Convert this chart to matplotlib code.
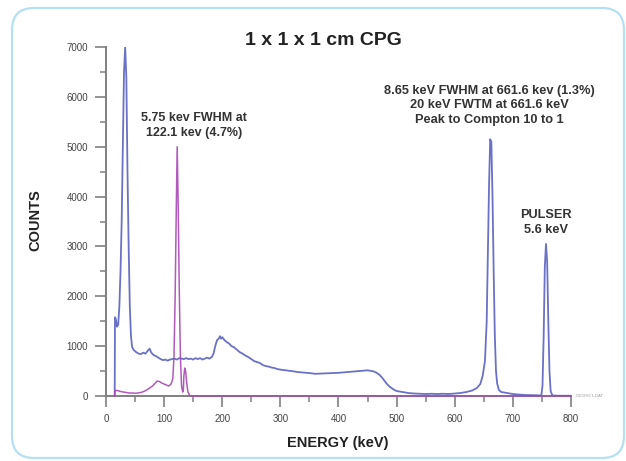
import matplotlib.pyplot as plt
from matplotlib.patches import FancyBboxPatch
from matplotlib.ticker import MultipleLocator

# Cs-137 spectrum with pulser (blue)
cs_energy = [15, 15.5, 17, 19, 21, 23, 25, 27, 29, 31, 33, 35, 37, 39, 41, 43, 45,
             48, 52, 56, 60, 64, 68, 72, 75, 78, 82, 86, 90, 94, 98, 102, 106, 110,
             114, 118, 122, 126, 130, 134, 138, 142, 146, 150, 154, 158, 162, 166,
             170, 174, 178, 182, 185, 188, 191, 194, 196, 198, 200, 204, 208, 212,
             216, 220, 225, 230, 235, 240, 245, 250, 255, 260, 265, 270, 275, 280,
             285, 290, 295, 300, 305, 310, 315, 320, 330, 340, 350, 360, 370, 380,
             390, 400, 410, 420, 430, 440, 450, 455, 460, 465, 470, 475, 480, 485,
             490, 495, 500, 510, 520, 530, 540, 550, 560, 570, 580, 590, 600, 610,
             620, 630, 638, 644, 648, 652, 655, 657, 659, 661, 663, 665, 667, 669,
             671, 673, 676, 680, 690, 700, 710, 720, 740, 749, 751, 753, 755, 757,
             759, 761, 763, 765, 768, 780, 800]
cs_counts = [0, 1580, 1540, 1390, 1430, 1800, 2500, 3500, 5000, 6500, 7000, 6400,
             4500, 3000, 1800, 1200, 980, 920, 880, 850, 840, 870, 850, 910, 950, 870,
             820, 800, 770, 740, 720, 730, 710, 730, 740, 750, 730, 760, 750, 740,
             760, 740, 750, 730, 760, 740, 760, 730, 750, 770, 750, 780, 850, 1000,
             1120, 1150, 1200, 1150, 1180, 1120, 1080, 1050, 1000, 980, 930, 880, 850,
             810, 780, 740, 700, 680, 660, 620, 600, 590, 570, 560, 540, 530, 520, 515,
             505, 500, 480, 470, 460, 445, 450, 455, 460, 465, 475, 485, 495, 505, 515,
             505, 495, 470, 430, 370, 290, 220, 170, 130, 100, 80, 60, 50, 45, 40, 45,
             40, 45, 40, 50, 60, 80, 110, 160, 240, 400, 700, 1500, 2800, 4200, 5150,
             5100, 4000, 2500, 1200, 500, 250, 120, 80, 60, 40, 30, 20, 15, 10, 200,
             1200, 2600, 3050, 2700, 1500, 500, 100, 10, 5, 5]

# Co-57 spectrum (purple)
co_energy = [15, 15.5, 20, 25, 30, 35, 40, 45, 50, 55, 60, 65, 70, 75, 80, 85, 88,
             92, 96, 100, 104, 108, 112, 115, 117, 119, 121, 122.5, 124, 126, 128,
             130, 132, 133, 134, 135.5, 137, 139, 141, 144, 147, 800]
co_counts = [0, 110, 110, 90, 80, 70, 60, 60, 55, 60, 70, 90, 120, 160, 200, 260,
             300, 290, 260, 240, 220, 200, 240, 350, 800, 2000, 3800, 5000, 4000,
             2200, 800, 200, 80, 100, 400, 560, 500, 250, 80, 10, 0, 0]

plt.rcParams['font.family'] = ['Liberation Sans', 'DejaVu Sans']

fig = plt.figure(figsize=(6.26, 4.61), dpi=100)
ax = fig.add_axes([0.1693, 0.141, 0.7428, 0.757])

border = FancyBboxPatch((0.12, 0.03), 6.12, 4.50,
                        boxstyle='round,pad=0,rounding_size=0.22',
                        transform=fig.dpi_scale_trans, fill=False,
                        edgecolor='#b5e0f2', linewidth=1.6)
fig.patches.append(border)

ax.plot(cs_energy, cs_counts, color='#5058bc', lw=1.3, alpha=0.85, zorder=3)
ax.plot(co_energy, co_counts, color='#a848b4', lw=1.1, alpha=0.9, zorder=4,
        clip_on=False)

ax.set_xlim(0, 800)
ax.set_ylim(0, 7000)
for s in ['top', 'right']:
    ax.spines[s].set_visible(False)
for s in ['left', 'bottom']:
    ax.spines[s].set_color('#808080')
    ax.spines[s].set_linewidth(1.4)

ax.xaxis.set_major_locator(MultipleLocator(100))
ax.xaxis.set_minor_locator(MultipleLocator(50))
ax.yaxis.set_major_locator(MultipleLocator(1000))
ax.yaxis.set_minor_locator(MultipleLocator(500))
ax.tick_params(which='major', length=8, width=1.2, color='#808080', pad=5,
               labelsize=7, labelcolor='#444444', direction='out')
ax.tick_params(which='minor', length=4.5, width=1.1, color='#808080', direction='out')

fig.text(0.517, 0.913, '1 x 1 x 1 cm CPG', ha='center', va='center',
         fontsize=14, fontweight='bold', color='#222222')
ax.set_ylabel('COUNTS', fontsize=10.5, fontweight='bold', color='#222222')
ax.yaxis.set_label_coords(-0.136, 0.504)
ax.set_xlabel('ENERGY (keV)', fontsize=10.5, fontweight='bold', color='#222222')
ax.xaxis.set_label_coords(0.499, -0.115)

ax.text(152, 5420, '5.75 kev FWHM at\n122.1 kev (4.7%)', ha='center', va='center',
        fontsize=9, fontweight='bold', color='#333333', linespacing=1.3)
ax.text(659, 5830, '8.65 keV FWHM at 661.6 kev (1.3%)\n20 keV FWTM at 661.6 keV\nPeak to Compton 10 to 1',
        ha='center', va='center', fontsize=9.2, fontweight='bold', color='#333333',
        linespacing=1.3)
ax.text(757, 3480, 'PULSER\n5.6 keV', ha='center', va='center',
        fontsize=9.2, fontweight='bold', color='#333333', linespacing=1.3)
ax.text(808, 0, 'C0C8HC1.DAT', ha='left', va='center', fontsize=3,
        color='#999999', clip_on=False)

plt.savefig('out.png', dpi=100)
